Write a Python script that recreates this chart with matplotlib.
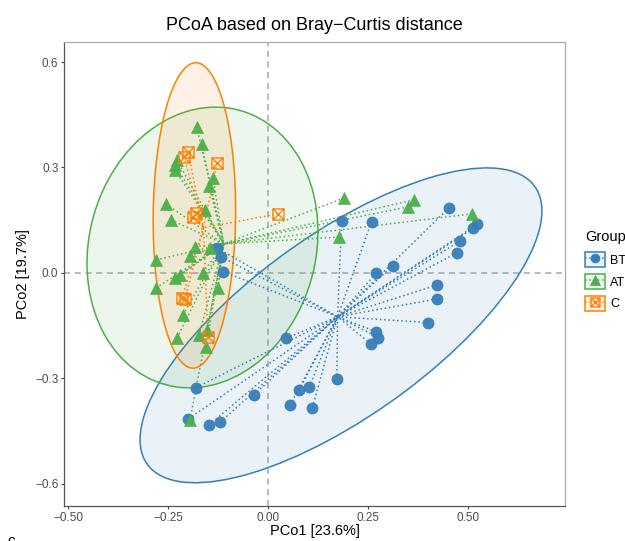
import numpy as np
import matplotlib
matplotlib.use("Agg")
import matplotlib.pyplot as plt
from matplotlib.patches import Ellipse, Patch
from matplotlib.lines import Line2D
from matplotlib.path import Path
from matplotlib.legend_handler import HandlerTuple
from matplotlib.colors import to_rgba

plt.rcParams['font.family'] = ['Liberation Sans', 'DejaVu Sans']

# ---------------- data ----------------
groups = ["BT", "AT", "C"]

bt_x = [0.184, 0.259, 0.453, 0.5225, 0.513, 0.480, 0.473, 0.312, 0.270, 0.423,
        0.422, 0.401, 0.270, 0.276, 0.2575, 0.172, 0.045, 0.078, 0.103, 0.055,
        0.111, -0.180, -0.199, -0.147, -0.120, -0.035, -0.1275, -0.1175, -0.1125]
bt_y = [0.148, 0.146, 0.186, 0.138, 0.127, 0.091, 0.058, 0.021, -0.001, -0.034,
        -0.074, -0.141, -0.167, -0.184, -0.202, -0.302, -0.186, -0.333, -0.325, -0.376,
        -0.383, -0.326, -0.415, -0.432, -0.425, -0.347, 0.071, 0.046, 0.004]

at_x = [-0.178, -0.166, -0.2275, -0.2325, -0.2325, -0.1375, -0.1475, -0.255, -0.2425, -0.1575,
        -0.1825, -0.145, -0.195, -0.280, -0.220, -0.2325, -0.1625, -0.125, -0.280, -0.2125,
        -0.2275, -0.1725, -0.1525, -0.155, -0.195, 0.190, 0.365, 0.350, 0.510, 0.1775]
at_y = [0.415, 0.367, 0.321, 0.307, 0.293, 0.270, 0.248, 0.196, 0.151, 0.179,
        0.075, 0.071, 0.048, 0.037, -0.006, -0.014, 0.001, -0.043, -0.043, -0.119,
        -0.185, -0.176, -0.162, -0.211, -0.418, 0.213, 0.208, 0.188, 0.168, 0.102]

c_x = [-0.200, -0.210, -0.1275, -0.180, -0.1875, 0.025, -0.215, -0.2075, -0.150]
c_y = [0.344, 0.330, 0.313, 0.171, 0.159, 0.168, -0.071, -0.074, -0.182]

# confidence ellipses (centre x, centre y, full axis along angle, full cross axis, angle deg)
ell_bt = [0.1825, -0.149, 1.252, 0.494, 40.5]
ell_at = [-0.1638, 0.0725, 0.804, 0.570, 80.6]
ell_c = [-0.184, 0.1636, 0.869, 0.206, 89.5]

xticks = [-0.50, -0.25, 0.00, 0.25, 0.50]
yticks = [-0.6, -0.3, 0.0, 0.3, 0.6]
xlabel = "PCo1 [23.6%]"
ylabel = "PCo2 [19.7%]"
title = "PCoA based on Bray\u2212Curtis distance"

# ---------------- style ----------------
colors = {"BT": "#377EB8", "AT": "#4DAF4A", "C": "#FF7F00"}

verts = [(-1, -1), (1, -1), (1, 1), (-1, 1), (-1, -1),
         (-1, -1), (1, 1), (-1, 1), (1, -1)]
codes = [Path.MOVETO, Path.LINETO, Path.LINETO, Path.LINETO, Path.CLOSEPOLY,
         Path.MOVETO, Path.LINETO, Path.MOVETO, Path.LINETO]
boxx = Path(verts, codes)


def mstyle(g, scale=1.0):
    base = {
        "BT": dict(marker="o", markersize=8, markerfacecolor=colors["BT"], markeredgecolor=colors["BT"], markeredgewidth=0.5),
        "AT": dict(marker="^", markersize=9, markerfacecolor=colors["AT"], markeredgecolor=colors["AT"], markeredgewidth=0.5),
        "C": dict(marker=boxx, markersize=8, markerfacecolor="none", markeredgecolor=colors["C"], markeredgewidth=1.0),
    }[g]
    base = dict(base)
    base["markersize"] *= scale
    return base


data = {"BT": (bt_x, bt_y, ell_bt), "AT": (at_x, at_y, ell_at), "C": (c_x, c_y, ell_c)}

fig = plt.figure(figsize=(6.25, 5.41), dpi=100)
ax = fig.add_axes([0.1024, 1 - 506 / 541, 0.8016, (506 - 42) / 541])

ax.axvline(0, color="#A8A8A8", lw=1.1, ls=(0, (4, 3)), zorder=1)
ax.axhline(0, color="#A8A8A8", lw=1.1, ls=(0, (4, 3)), zorder=1)

dot = (0, (1, 1.8))
for g in groups:
    x, y, e = data[g]
    ax.add_patch(Ellipse((e[0], e[1]), e[2], e[3], angle=e[4],
                         facecolor=to_rgba(colors[g], 0.10), edgecolor=colors[g],
                         lw=1.1, zorder=2))
for g in groups:
    x, y, e = data[g]
    cx, cy = np.mean(x), np.mean(y)
    for xi, yi in zip(x, y):
        ax.plot([xi, cx], [yi, cy], color=colors[g], lw=1.1, ls=dot, zorder=3)
for g in ["BT", "AT", "C"]:
    x, y, e = data[g]
    ax.plot(x, y, ls="none", zorder=4, alpha=0.95, **mstyle(g))

ax.set_xlim(-0.51, 0.7425)
ax.set_ylim(-0.663, 0.657)
ax.set_xticks(xticks)
ax.set_xticklabels([f"{t:.2f}".replace("-", "\u2212") for t in xticks])
ax.set_yticks(yticks)
ax.set_yticklabels([f"{t:.1f}".replace("-", "\u2212") for t in yticks])
ax.tick_params(direction="out", length=2.5, width=0.8, color="#444444",
               labelsize=8.5, labelcolor="#4D4D4D", pad=1.5)
for s in ["left", "bottom"]:
    ax.spines[s].set_color("#555555")
    ax.spines[s].set_linewidth(0.9)
for s in ["top", "right"]:
    ax.spines[s].set_color("#AAAAAA")
    ax.spines[s].set_linewidth(0.9)

ax.set_xlabel(xlabel, fontsize=10.5, labelpad=0.5)
ax.set_ylabel(ylabel, fontsize=10.5, labelpad=4)
ax.set_title(title, fontsize=13, pad=9)

handles = []
for g in groups:
    p = Patch(facecolor=to_rgba(colors[g], 0.10), edgecolor=colors[g], lw=1.1)
    l = Line2D([], [], color=colors[g], lw=1.1, ls=dot, **mstyle(g, 0.8))
    handles.append((p, l))
leg = fig.legend(handles, groups, handler_map={tuple: HandlerTuple(ndivide=1, pad=0)},
                 loc="upper left", bbox_to_anchor=(585 / 625, 1 - 230 / 541),
                 frameon=False, title="Group", title_fontsize=10.5, fontsize=9,
                 handlelength=1.6, handleheight=1.45, handletextpad=0.4,
                 labelspacing=0.55, borderaxespad=0, borderpad=0)
leg._legend_box.align = "left"
leg._legend_box.sep = 6

fig.text(0.012, -0.008, "c", fontsize=11, va="baseline")

fig.savefig("out.png", dpi=100)
